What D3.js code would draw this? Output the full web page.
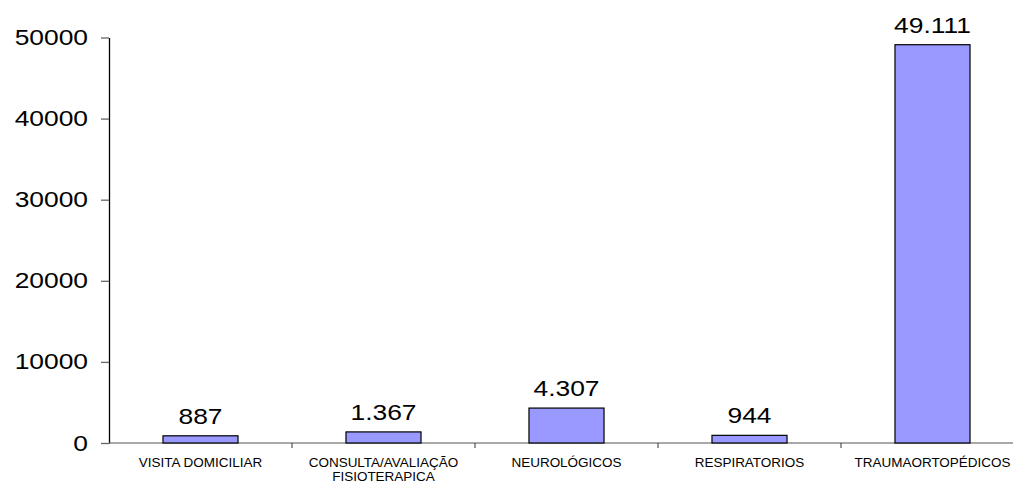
<!DOCTYPE html>
<html>
<head>
<meta charset="utf-8">
<script src="https://cdn.jsdelivr.net/npm/d3@7"></script>
<style>
  body { margin: 0; background: #fff; }
  text { font-family: "Liberation Sans", Arial, sans-serif; }
</style>
</head>
<body>
<script>
// data
var categories = ['VISITA DOMICILIAR', 'CONSULTA/AVALIAÇÃO FISIOTERAPICA', 'NEUROLÓGICOS', 'RESPIRATORIOS', 'TRAUMAORTOPÉDICOS'];
var labelLines = [['VISITA DOMICILIAR'], ['CONSULTA/AVALIAÇÃO', 'FISIOTERAPICA'], ['NEUROLÓGICOS'], ['RESPIRATORIOS'], ['TRAUMAORTOPÉDICOS']];
var values = [887, 1367, 4307, 944, 49111];
var valueLabels = ['887', '1.367', '4.307', '944', '49.111'];
var yTicks = [0, 10000, 20000, 30000, 40000, 50000];

var width = 1013, height = 485;
var left = 109, zeroY = 443, topY = 37.5;
var band = 183;
var stretch = 1.2; // the original text looks horizontally stretched

var svg = d3.select('body').append('svg')
  .attr('width', width)
  .attr('height', height);

var x = d3.scaleBand()
  .domain(categories)
  .range([left, left + band * categories.length])
  .paddingInner(0.59)
  .paddingOuter(0.295);

var xb = d3.scaleBand()
  .domain(categories)
  .range([left, left + band * categories.length]);

var y = d3.scaleLinear()
  .domain([0, 50000])
  .range([zeroY, topY]);

// y axis
var yAxis = svg.append('g')
  .attr('transform', 'translate(' + left + ',0)')
  .call(d3.axisLeft(y).tickValues(yTicks).tickFormat(d3.format('d')).tickSize(8).tickPadding(13).tickSizeOuter(0));
yAxis.select('.domain').attr('stroke', '#000').attr('stroke-width', 1.3);
yAxis.selectAll('.tick line').attr('stroke', '#666').attr('stroke-width', 1.3);
yAxis.selectAll('.tick text')
  .attr('fill', '#000')
  .attr('x', -21 / stretch)
  .attr('transform', 'scale(' + stretch + ',1)')
  .style('font-size', '22px');

// x axis line and category ticks
svg.append('line')
  .attr('x1', left).attr('x2', width)
  .attr('y1', zeroY).attr('y2', zeroY)
  .attr('stroke', '#555').attr('stroke-width', 1.2);

svg.append('g').selectAll('line')
  .data(categories.slice(1))
  .enter()
  .append('line')
  .attr('x1', d => xb(d)).attr('x2', d => xb(d))
  .attr('y1', zeroY).attr('y2', zeroY + 5)
  .attr('stroke', '#333');

// bars
svg.append('g').selectAll('rect')
  .data(values)
  .enter()
  .append('rect')
  .attr('x', (d, i) => x(categories[i]))
  .attr('y', d => y(d))
  .attr('width', x.bandwidth())
  .attr('height', d => zeroY - y(d))
  .attr('fill', '#9999ff')
  .attr('stroke', '#000')
  .attr('stroke-width', 1.2);

// value labels
svg.append('g').selectAll('g')
  .data(values)
  .enter()
  .append('g')
  .attr('transform', (d, i) => 'translate(' + (x(categories[i]) + x.bandwidth() / 2) + ',' + (y(d) - 12) + ') scale(' + stretch + ',1)')
  .append('text')
  .attr('text-anchor', 'middle')
  .style('font-size', '22px')
  .attr('fill', '#000')
  .text((d, i) => valueLabels[i]);

// category labels
var catG = svg.append('g').selectAll('g')
  .data(categories)
  .enter()
  .append('g')
  .attr('transform', d => 'translate(' + (xb(d) + xb.bandwidth() / 2) + ',467) scale(1.08,1)')
  .append('text')
  .attr('text-anchor', 'middle')
  .style('font-size', '12.5px')
  .attr('fill', '#000');

catG.selectAll('tspan')
  .data((d, i) => labelLines[i])
  .enter()
  .append('tspan')
  .attr('x', 0)
  .attr('dy', (d, i) => i === 0 ? 0 : 14)
  .text(d => d);
</script>
</body>
</html>
